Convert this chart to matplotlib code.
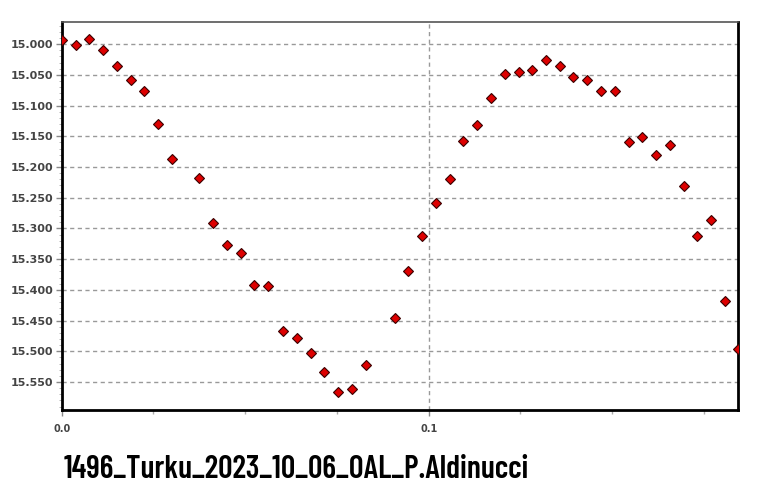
import matplotlib
matplotlib.use("Agg")
import matplotlib.pyplot as plt
from matplotlib.ticker import MultipleLocator, FixedLocator

# phase and magnitude
phase = [0.0000, 0.0039, 0.0075, 0.0113, 0.0150, 0.0188, 0.0225, 0.0263, 0.0301,
         0.0375, 0.0413, 0.0450, 0.0488, 0.0525, 0.0563, 0.0604, 0.0641, 0.0678,
         0.0716, 0.0754, 0.0791, 0.0829, 0.0907, 0.0944, 0.0983, 0.1020, 0.1057,
         0.1094, 0.1132, 0.1169, 0.1208, 0.1245, 0.1282, 0.1320, 0.1357, 0.1394,
         0.1431, 0.1469, 0.1507, 0.1545, 0.1582, 0.1619, 0.1657, 0.1695, 0.1731,
         0.1769, 0.1807, 0.1843]
mag = [14.994, 15.001, 14.991, 15.010, 15.036, 15.059, 15.077, 15.130, 15.187,
       15.218, 15.291, 15.327, 15.340, 15.392, 15.394, 15.467, 15.479, 15.502,
       15.534, 15.567, 15.561, 15.522, 15.445, 15.370, 15.312, 15.258, 15.219,
       15.158, 15.132, 15.087, 15.048, 15.046, 15.042, 15.026, 15.036, 15.053,
       15.059, 15.077, 15.077, 15.160, 15.151, 15.181, 15.164, 15.231, 15.312,
       15.286, 15.418, 15.496]

title = "1496_Turku_2023_10_06_OAL_P.Aldinucci"
x_labels = ["0.0", "0.1"]

fig = plt.figure(figsize=(7.62, 4.99), dpi=100)
ax = fig.add_axes([0.081, 0.1784, 0.888, 0.7776])

ax.plot(phase, mag, linestyle="none", marker="D", markersize=5.2,
        markerfacecolor="#dd0000", markeredgecolor="#3a0000", markeredgewidth=0.8,
        clip_on=True, zorder=3)

ax.set_xlim(0, 0.1844)
ax.set_ylim(15.5955, 14.964)

ax.yaxis.set_major_locator(FixedLocator([15.0 + 0.05 * i for i in range(12)]))
ax.yaxis.set_minor_locator(MultipleLocator(0.01))
ax.set_yticklabels(["%.3f" % (15.0 + 0.05 * i) for i in range(12)])
ax.xaxis.set_major_locator(FixedLocator([0.0, 0.1]))
ax.xaxis.set_minor_locator(MultipleLocator(0.025))
ax.set_xticklabels(x_labels)

ax.tick_params(axis="y", which="major", length=4, width=1, color="#888888",
               labelsize=8, labelcolor="#444444", pad=2)
ax.tick_params(axis="y", which="minor", length=2, width=0.6, color="#aaaaaa")
ax.tick_params(axis="x", which="major", length=4, width=1, color="#888888",
               labelsize=7, labelcolor="#444444", pad=6)
ax.tick_params(axis="x", which="minor", length=3, width=1, color="#aaaaaa")
for lab in ax.get_yticklabels() + ax.get_xticklabels():
    lab.set_fontweight("bold")

ax.grid(axis="y", which="major", color="#999999", linestyle=(0, (3, 2.5)), linewidth=1)
ax.axvline(0.1, color="#999999", linestyle=(0, (3, 2.5)), linewidth=1, zorder=1)

for side in ["left", "bottom", "right"]:
    ax.spines[side].set_color("black")
    ax.spines[side].set_linewidth(2)
ax.spines["top"].set_color("#555555")
ax.spines["top"].set_linewidth(1.2)

fig.text(0.083, 0.043, title, fontsize=22.8, fontweight="semibold",
         family=["Barlow Condensed", "DejaVu Sans"], color="black")

fig.savefig("out.png", dpi=100)
